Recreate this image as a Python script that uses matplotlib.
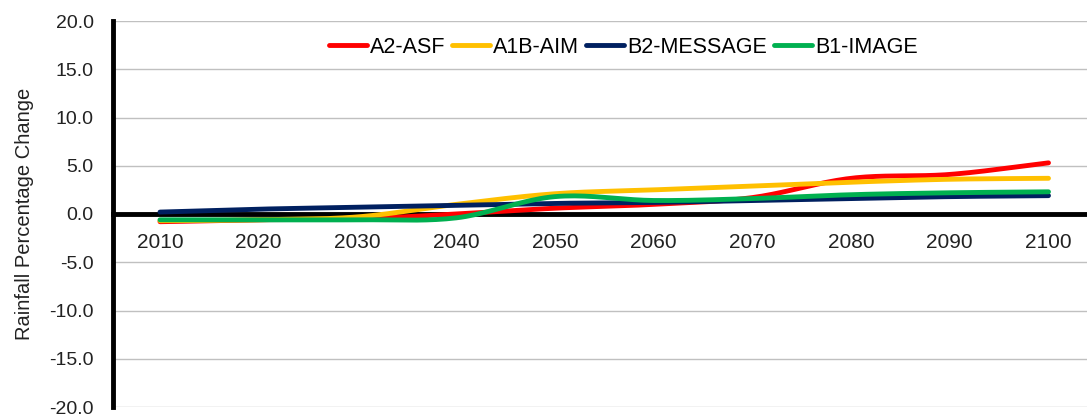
import numpy as np
import matplotlib
matplotlib.use("Agg")
import matplotlib.pyplot as plt

years = ["2010", "2020", "2030", "2040", "2050", "2060", "2070", "2080", "2090", "2100"]
a2_asf = [-0.8, -0.6, -0.5, 0.0, 0.6, 1.0, 1.7, 3.7, 4.1, 5.3]
a1b_aim = [-0.7, -0.6, -0.3, 1.0, 2.1, 2.5, 2.9, 3.3, 3.6, 3.7]
b2_message = [0.2, 0.5, 0.7, 0.9, 1.1, 1.2, 1.4, 1.6, 1.8, 1.9]
b1_image = [-0.6, -0.6, -0.6, -0.4, 1.8, 1.4, 1.6, 2.0, 2.2, 2.3]

series = [("A2-ASF", a2_asf, "#FF0000"),
          ("A1B-AIM", a1b_aim, "#FFC000"),
          ("B2-MESSAGE", b2_message, "#002060"),
          ("B1-IMAGE", b1_image, "#00B050")]

plt.rcParams['font.family'] = ['Liberation Sans', 'DejaVu Sans']


def smooth(x, y, n=20):
    # Catmull-Rom style smoothing for display (like Excel smoothed lines)
    x = np.asarray(x, float); y = np.asarray(y, float)
    px = np.concatenate([[2 * x[0] - x[1]], x, [2 * x[-1] - x[-2]]])
    py = np.concatenate([[2 * y[0] - y[1]], y, [2 * y[-1] - y[-2]]])
    xs, ys = [], []
    for i in range(1, len(px) - 2):
        t = np.linspace(0, 1, n, endpoint=False)
        for p, out in ((px, xs), (py, ys)):
            p0, p1, p2, p3 = p[i - 1], p[i], p[i + 1], p[i + 2]
            c1 = p1 + (p2 - p0) / 6
            c2 = p2 - (p3 - p1) / 6
            out.extend((1 - t) ** 3 * p1 + 3 * (1 - t) ** 2 * t * c1 + 3 * (1 - t) * t ** 2 * c2 + t ** 3 * p2)
    xs.append(x[-1]); ys.append(y[-1])
    return np.array(xs), np.array(ys)


fig = plt.figure(figsize=(10.87, 4.16), dpi=100)
ax = fig.add_axes([113 / 1087, 9 / 416, 1 - 113 / 1087, (407 - 21) / 416])

idx = np.arange(len(years))
for name, vals, col in series:
    sx, sy = smooth(idx, vals)
    ax.plot(sx, sy, color=col, lw=3.5, label=name, solid_capstyle='round', zorder=3)

ax.set_ylim(-20, 20)
ax.set_xlim(-0.476, 9.39)
ax.set_yticks(np.arange(-20, 21, 5))
ax.set_yticklabels([f"{v:.1f}" for v in np.arange(-20, 21, 5)])
ax.set_xticks(idx)
ax.set_xticklabels(years)
ax.grid(axis='y', color='#c0c0c0', lw=1)
ax.set_axisbelow(True)

for s in ['top', 'right']:
    ax.spines[s].set_visible(False)
ax.spines['left'].set_linewidth(3.5)
ax.spines['left'].set_color('black')
ax.spines['bottom'].set_position(('data', 0))
ax.spines['bottom'].set_linewidth(3.5)
ax.spines['bottom'].set_color('black')
ax.spines['bottom'].set_zorder(2.5)

ax.tick_params(axis='y', length=0, pad=14, labelsize=14, colors='#222222')
ax.tick_params(axis='x', length=0, pad=14, labelsize=15, colors='#222222')
ax.set_ylabel("Rainfall Percentage Change", fontsize=14.5, color='#222222', labelpad=11)

ax.legend(loc='upper center', bbox_to_anchor=(0.524, 1.01), ncol=4, frameon=False,
          fontsize=15.5, handlelength=1.75, handletextpad=0.15, columnspacing=0.33)

fig.savefig("out.png", dpi=100)
